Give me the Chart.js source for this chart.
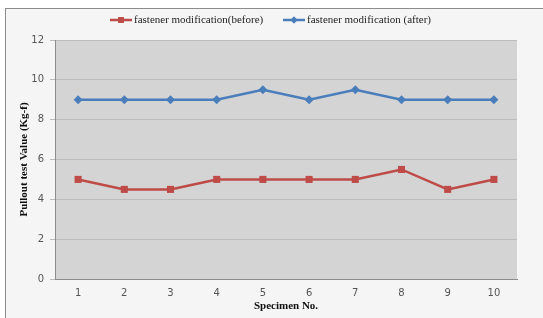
<!DOCTYPE html>
<html>
<head>
<meta charset="utf-8">
<script src="https://cdn.jsdelivr.net/npm/chart.js@4.4.0/dist/chart.umd.min.js"></script>
<style>
  html, body { margin: 0; padding: 0; background: #ffffff; }
  #wrap {
    position: absolute; left: 5px; top: 8px; width: 560px; height: 330px;
    background: #f5f5f5; border-left: 1px solid #8c8c8c; border-top: 1px solid #8c8c8c;
  }
  #c { position: absolute; left: 0; top: 0; }
</style>
</head>
<body>
<div id="wrap"></div>
<canvas id="c" width="543" height="318"></canvas>
<script>
const specimens = ["1", "2", "3", "4", "5", "6", "7", "8", "9", "10"];
const beforeValues = [5, 4.5, 4.5, 5, 5, 5, 5, 5.5, 4.5, 5];
const afterValues = [9, 9, 9, 9, 9.5, 9, 9.5, 9, 9, 9];
const seriesNames = ["fastener modification(before)", "fastener modification (after)"];

const RED = "#be4b48";
const BLUE = "#4a7ebb";

// gray plot background
const plotBg = {
  id: "plotBg",
  beforeDraw(chart) {
    const { ctx, chartArea: a } = chart;
    ctx.save();
    ctx.fillStyle = "#d4d4d4";
    ctx.fillRect(a.left, a.top, a.right - a.left, a.bottom - a.top);
    ctx.restore();
  },
};

// excel-style legend: short line with marker, then text
const lineLegend = {
  id: "lineLegend",
  afterDraw(chart) {
    const { ctx } = chart;
    const items = [
      { x: 110, color: RED, style: "rect", r: 4 },
      { x: 283, color: BLUE, style: "rectRot", r: 3.5 },
    ];
    ctx.save();
    ctx.font = "11px 'Liberation Serif'";
    ctx.textBaseline = "middle";
    items.forEach((it, i) => {
      const y = 20;
      ctx.strokeStyle = it.color;
      ctx.lineWidth = 2.5;
      ctx.beginPath();
      ctx.moveTo(it.x, y);
      ctx.lineTo(it.x + 22, y);
      ctx.stroke();
      ctx.fillStyle = it.color;
      Chart.helpers.drawPoint(ctx, { pointStyle: it.style, radius: it.r, borderWidth: 0 }, it.x + 11, y);
      ctx.fill();
      ctx.fillStyle = "#222";
      ctx.fillText(seriesNames[i], it.x + 24, y);
    });
    ctx.restore();
  },
};

new Chart(document.getElementById("c"), {
  type: "line",
  data: {
    labels: specimens,
    datasets: [
      {
        label: seriesNames[0],
        data: beforeValues,
        borderColor: RED,
        backgroundColor: RED,
        borderWidth: 2.5,
        pointStyle: "rect",
        pointRadius: 5,
        pointBorderWidth: 0,
        tension: 0,
      },
      {
        label: seriesNames[1],
        data: afterValues,
        borderColor: BLUE,
        backgroundColor: BLUE,
        borderWidth: 2.5,
        pointStyle: "rectRot",
        pointRadius: 4.5,
        pointBorderWidth: 0,
        tension: 0,
      },
    ],
  },
  options: {
    animation: false,
    responsive: false,
    layout: { padding: { left: 0, top: 40, right: 26, bottom: 0 } },
    scales: {
      x: {
        offset: true,
        grid: { display: false, drawTicks: false },
        border: { display: true, color: "#8c8c8c" },
        ticks: {
          color: "#555",
          padding: 8,
          font: { family: "DejaVu Sans", size: 10 },
        },
        title: {
          display: true,
          text: "Specimen No.",
          color: "#111",
          padding: { top: 0, bottom: 5 },
          font: { family: "Liberation Serif", size: 11, weight: "bold" },
        },
        afterFit(scale) { scale.height = 39; },
      },
      y: {
        min: 0,
        max: 12,
        ticks: {
          stepSize: 2,
          color: "#555",
          padding: 6,
          font: { family: "DejaVu Sans", size: 10 },
        },
        grid: { color: "#bcbcbc", tickLength: 5, lineWidth: 1 },
        border: { display: true, color: "#8c8c8c" },
        title: {
          display: true,
          text: "Pullout test Value (Kg-f)",
          color: "#111",
          padding: { top: 18, bottom: 0 },
          font: { family: "Liberation Serif", size: 11, weight: "bold" },
        },
        afterFit(scale) { scale.width = 55; },
      },
    },
    plugins: {
      legend: { display: false },
      tooltip: { enabled: false },
    },
  },
  plugins: [plotBg, lineLegend],
});
</script>
</body>
</html>
